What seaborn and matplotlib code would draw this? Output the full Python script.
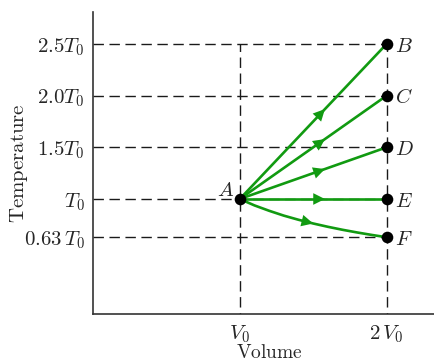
import matplotlib
matplotlib.use('Agg')
import matplotlib.pyplot as plt
import seaborn as sns
import pandas as pd

# state A and end states B..F (V in units of V0, T in units of T0)
start_name = 'A'
start_v = 1.0
start_t = 1.0
end_names = ['B', 'C', 'D', 'E', 'F']
end_v = [2.0, 2.0, 2.0, 2.0, 2.0]
end_t = [2.5, 2.0, 1.5, 1.0, 0.63]

# curved path A -> F
curve_v = [1.0, 1.1, 1.2, 1.3, 1.4, 1.5, 1.6, 1.7, 1.8, 1.9, 2.0]
curve_t = [1.0, 0.938, 0.886, 0.839, 0.799, 0.763, 0.731, 0.702, 0.676, 0.652, 0.63]

# ticks
x_ticks = [1.0, 2.0]
x_tick_labels = [r'$V_0$', r'$2\,V_0$']
y_ticks = [2.5, 2.0, 1.5, 1.0, 0.63]
y_tick_labels = [r'$2.5T_0$', r'$2.0T_0$', r'$1.5T_0$', r'$T_0$', r'$0.63\,T_0$']

green = '#119a11'

sns.set_style('white')
plt.rcParams['mathtext.fontset'] = 'cm'
plt.rcParams['font.family'] = ['DejaVu Serif']

fig = plt.figure(figsize=(4.35, 3.62), dpi=100)
ax = fig.add_axes([0.2138, 0.1326, 0.7862, 0.8343])

# dashed guide lines
for t in y_ticks:
    ax.plot([0, 2.0], [t, t], ls=(0, (7.5, 4)), color='#1a1a1a', lw=1.0, zorder=1)
for v in x_ticks:
    ax.plot([v, v], [-0.2, 2.5], ls=(0, (7.5, 4)), color='#1a1a1a', lw=1.0, zorder=1)

# paths
for name, v, t in zip(end_names, end_v, end_t):
    if name == 'F':
        df = pd.DataFrame({'V': curve_v, 'T': curve_t})
    else:
        df = pd.DataFrame({'V': [start_v, v], 'T': [start_t, t]})
    sns.lineplot(data=df, x='V', y='T', color=green, lw=1.9, ax=ax,
                 sort=False, zorder=2)
    # arrow head near the middle of each path
    if name == 'F':
        tail = (curve_v[4], curve_t[4])
        tip = (curve_v[5], curve_t[5])
    else:
        f0, f1 = 0.45, 0.58
        tail = (start_v + f0 * (v - start_v), start_t + f0 * (t - start_t))
        tip = (start_v + f1 * (v - start_v), start_t + f1 * (t - start_t))
    ax.annotate('', xy=tip, xytext=tail,
                arrowprops=dict(arrowstyle='-|>', color=green, lw=0,
                                mutation_scale=21, shrinkA=0, shrinkB=0),
                zorder=3)

# state points
pts = pd.DataFrame({'V': [start_v] + end_v, 'T': [start_t] + end_t})
sns.scatterplot(data=pts, x='V', y='T', color='black', s=70, ax=ax,
                zorder=4, edgecolor='black', linewidth=0)

ax.text(start_v - 0.04, start_t + 0.08, r'$A$', fontsize=15,
        ha='right', va='center')
for name, v, t in zip(end_names, end_v, end_t):
    ax.text(v + 0.06, t - 0.02, '$' + name + '$', fontsize=15,
            ha='left', va='center')

ax.set_xlim(0, 2.33)
ax.set_ylim(-0.113, 2.81)
ax.set_xticks(x_ticks)
ax.set_xticklabels(x_tick_labels, fontsize=15)
ax.set_yticks(y_ticks)
ax.set_yticklabels(y_tick_labels, fontsize=15)
ax.tick_params(length=0, pad=6)
ax.tick_params(axis='x', pad=7)
ax.set_xlabel(r'$\mathrm{Volume}$', fontsize=14)
ax.xaxis.set_label_coords(0.515, -0.1)
ax.set_ylabel(r'$\mathrm{Temperature}$', fontsize=15)
ax.yaxis.set_label_coords(-0.183, 0.5)

for s in ['top', 'right']:
    ax.spines[s].set_visible(False)
for s in ['left', 'bottom']:
    ax.spines[s].set_color('#333333')
    ax.spines[s].set_linewidth(1.2)

fig.savefig('out.png', dpi=100)
